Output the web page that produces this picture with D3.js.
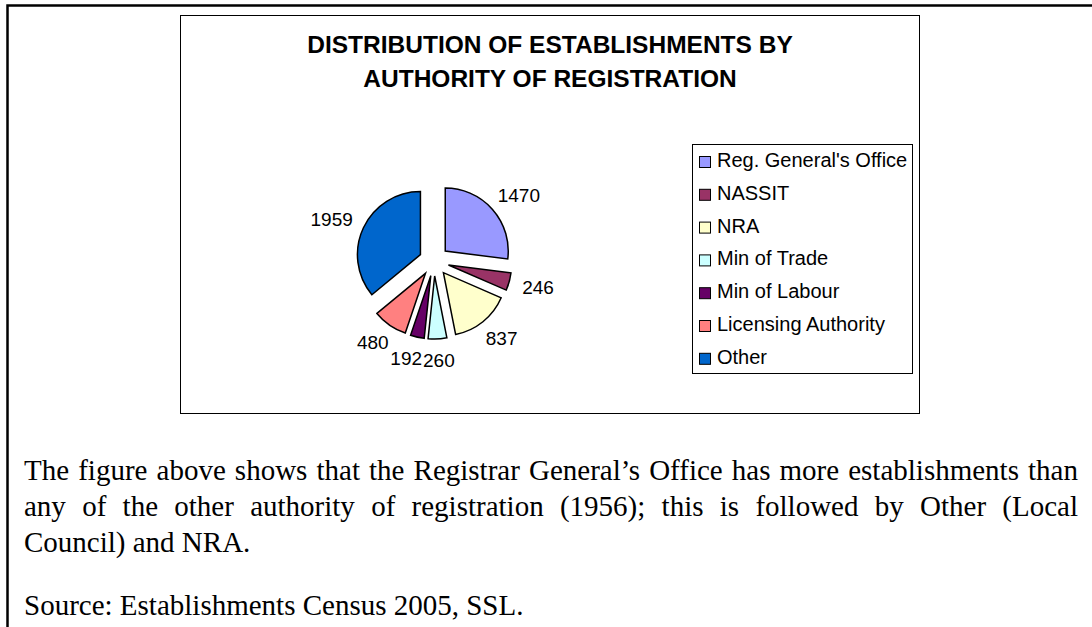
<!DOCTYPE html>
<html>
<head>
<meta charset="utf-8">
<script src="https://cdn.jsdelivr.net/npm/d3@7"></script>
<style>
  body { margin: 0; background: #fff; }
  #page { position: relative; width: 1092px; height: 627px; overflow: hidden; }
  svg { position: absolute; left: 0; top: 0; }
  .para {
    position: absolute; left: 24px; width: 1054px;
    font-family: "Liberation Serif", "Times New Roman", serif;
    font-size: 29px; line-height: 36px; color: #000;
    margin: 0; white-space: nowrap;
  }
  .just { text-align: justify; text-align-last: justify; }
</style>
</head>
<body>
<div id="page">
  <svg width="1092" height="627"></svg>
  <p class="para just" style="top:452px">The figure above shows that the Registrar General’s Office has more establishments than</p>
  <p class="para just" style="top:488px">any of the other authority of registration (1956); this is followed by Other (Local</p>
  <p class="para" style="top:524px">Council) and NRA.</p>
  <p class="para" style="top:587px">Source: Establishments Census 2005, SSL.</p>
</div>
<script>
// chart data
var categories = ["Reg. General's Office", "NASSIT", "NRA", "Min of Trade", "Min of Labour", "Licensing Authority", "Other"];
var values = [1470, 246, 837, 260, 192, 480, 1959];
var colours = ["#9999FF", "#993366", "#FFFFCC", "#CCFFFF", "#660066", "#FF8080", "#0066CC"];
var title_lines = ["DISTRIBUTION OF ESTABLISHMENTS BY", "AUTHORITY OF REGISTRATION"];

var svg = d3.select("svg");

// outer page frame (runs off the right and bottom edge)
svg.append("rect")
    .attr("x", 7.5).attr("y", 5.5)
    .attr("width", 1200).attr("height", 700)
    .attr("fill", "none").attr("stroke", "#000").attr("stroke-width", 2.5);

// chart area
svg.append("rect")
    .attr("x", 180.5).attr("y", 15.5)
    .attr("width", 739).attr("height", 398)
    .attr("fill", "#fff").attr("stroke", "#000").attr("stroke-width", 1);

// title
svg.append("g").selectAll("text")
    .data(title_lines)
    .enter().append("text")
    .attr("x", 550)
    .attr("y", function(d, i) { return 53 + i * 34; })
    .attr("text-anchor", "middle")
    .attr("font-family", "'Liberation Sans', Arial, sans-serif")
    .attr("font-weight", "bold")
    .attr("font-size", "24.5px")
    .text(function(d) { return d; });

// pie
var cx = 434, cy = 261, radius = 63, explode = 15;

var data = categories.map(function(c, i) {
    return {name: c, value: values[i], colour: colours[i]};
});

var pie = d3.pie()
    .sort(null)
    .value(function(d) { return d.value; });

var arc = d3.arc()
    .innerRadius(0)
    .outerRadius(radius);

var arcs = pie(data);

var pie_g = svg.append("g")
    .attr("transform", "translate(" + cx + "," + cy + ")");

pie_g.selectAll("path")
    .data(arcs)
    .enter().append("path")
    .attr("d", arc)
    .attr("transform", function(d) {
        var a = (d.startAngle + d.endAngle) / 2;
        return "translate(" + (explode * Math.sin(a)) + "," + (-explode * Math.cos(a)) + ")";
    })
    .attr("fill", function(d) { return d.data.colour; })
    .attr("stroke", "#000")
    .attr("stroke-width", 1.5)
    .attr("stroke-linejoin", "miter");

// value labels: box placed just outside each exploded slice
var label_r = radius + explode + 14;
var boxes = [];
var labels = pie_g.selectAll("text")
    .data(arcs)
    .enter().append("text")
    .attr("font-family", "'Liberation Sans', Arial, sans-serif")
    .attr("font-size", "19px")
    .attr("text-anchor", "middle")
    .attr("dy", "0.36em")
    .text(function(d) { return d.data.value; })
    .each(function(d) {
        var a = (d.startAngle + d.endAngle) / 2;
        var w = this.getComputedTextLength(), h = 14;
        boxes.push({
            x: label_r * Math.sin(a) + Math.sin(a) * w / 2,
            y: -label_r * Math.cos(a) - Math.cos(a) * h / 2,
            w: w, h: h
        });
    });

// nudge neighbouring labels apart if they collide
for (var i = 1; i < boxes.length; i++) {
    var p = boxes[i - 1], b = boxes[i];
    var ox = (p.w + b.w) / 2 - Math.abs(b.x - p.x);
    var oy = (p.h + b.h) / 2 - Math.abs(b.y - p.y);
    if (ox > 0 && oy > 0) {
        b.x += (b.x >= p.x ? 1 : -1) * (ox + 1);
    }
}
labels
    .attr("x", function(d, i) { return boxes[i].x; })
    .attr("y", function(d, i) { return boxes[i].y; });

// legend
var legend = svg.append("g");
legend.append("rect")
    .attr("x", 692.5).attr("y", 144.5)
    .attr("width", 220).attr("height", 229)
    .attr("fill", "#fff").attr("stroke", "#000").attr("stroke-width", 1);

var rows = legend.selectAll("g.row")
    .data(data)
    .enter().append("g")
    .attr("class", "row")
    .attr("transform", function(d, i) { return "translate(0," + (167 + i * 32.8) + ")"; });

rows.append("rect")
    .attr("x", 699.5).attr("y", -10.5)
    .attr("width", 11).attr("height", 11)
    .attr("fill", function(d) { return d.colour; })
    .attr("stroke", "#000").attr("stroke-width", 1);

rows.append("text")
    .attr("x", 717)
    .attr("y", 0)
    .attr("font-family", "'Liberation Sans', Arial, sans-serif")
    .attr("font-size", "20px")
    .text(function(d) { return d.name; });
</script>
</body>
</html>
